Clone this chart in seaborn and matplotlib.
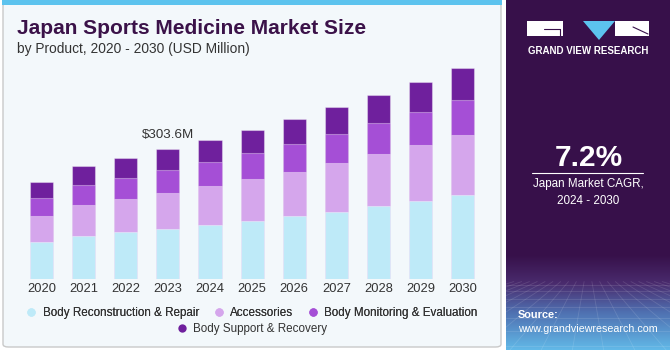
import numpy as np
import pandas as pd
import matplotlib
matplotlib.use("Agg")
import matplotlib.pyplot as plt
import seaborn as sns
from matplotlib.patches import FancyBboxPatch, Rectangle, Polygon
from matplotlib.lines import Line2D
from matplotlib.colors import LinearSegmentedColormap

# ---------------- data ----------------
years = ["2020", "2021", "2022", "2023", "2024", "2025", "2026", "2027", "2028", "2029", "2030"]
body_reconstruction = [87.2, 102.0, 109.8, 117.6, 126.9, 136.2, 147.1, 158.0, 171.3, 183.7, 197.0]
accessories = [61.5, 71.6, 77.9, 83.3, 90.3, 97.3, 104.3, 112.9, 119.9, 129.2, 139.4]
body_monitoring = [41.3, 46.7, 49.0, 54.5, 56.8, 60.7, 63.8, 67.7, 72.4, 77.1, 81.0]
body_support = [36.6, 43.6, 45.9, 48.3, 51.4, 54.5, 58.4, 62.3, 67.0, 70.1, 75.5]
segment_names = ["Body Reconstruction & Repair", "Accessories",
                 "Body Monitoring & Evaluation", "Body Support & Recovery"]
segment_colors = ["#BEEAF8", "#D5A6EC", "#A54FD6", "#6F209D"]
annot_year = "2023"
annot_text = "$303.6M"
cagr_text = "7.2%"
title = "Japan Sports Medicine Market Size"
subtitle = "by Product, 2020 - 2030 (USD Million)"

sns.set_theme(style="white")
plt.rcParams["font.family"] = ["Liberation Sans", "DejaVu Sans"]

W, H = 670, 350
fig = plt.figure(figsize=(W / 100, H / 100), dpi=100)
fig.patch.set_facecolor("white")


def fx(x):
    return x / W


def fy(y):
    return (H - y) / H


# ---------------- backgrounds ----------------
main_bg = FancyBboxPatch((fx(3), fy(347)), fx(498), (344) / H,
                         boxstyle="round,pad=0,rounding_size=0.008",
                         transform=fig.transFigure, facecolor="#F3F8FB",
                         edgecolor="#C9C9C9", linewidth=1.0, zorder=0)
fig.add_artist(main_bg)
fig.add_artist(Rectangle((fx(2), fy(5)), fx(500), 5 / H, transform=fig.transFigure,
                         facecolor="#5CC3EE", edgecolor="none", zorder=1))
fig.add_artist(Rectangle((fx(506), 0), fx(164), 1, transform=fig.transFigure,
                         facecolor="#37104A", edgecolor="none", zorder=0))

# gradient at bottom of the right panel
gax = fig.add_axes([fx(506), 0, fx(164), 95 / H], zorder=1)
cmap = LinearSegmentedColormap.from_list(
    "g", [(0, "#37104A"), (0.3, "#4A2C6E"), (0.6, "#4F6FB0"), (1.0, "#62B9E8")])
grad = np.linspace(0, 1, 200).reshape(-1, 1)
gax.imshow(grad, aspect="auto", cmap=cmap, extent=[0, 1, 0, 1], origin="upper")
for k in np.linspace(-1.5, 2.5, 22):
    gax.plot([0.5 + (k - 0.5) * 0.25, k], [0.72, 0], color="white", alpha=0.12, lw=0.6)
for yy in [0.68, 0.62, 0.54, 0.45, 0.34, 0.2, 0.04]:
    gax.plot([0, 1], [yy, yy], color="white", alpha=0.12, lw=0.6)
gax.set_xlim(0, 1)
gax.set_ylim(0, 1)
gax.axis("off")

# ---------------- chart ----------------
ax = fig.add_axes([fx(20.6), (H - 279.3) / H, fx(463), 217.3 / H], zorder=2)
ax.set_facecolor("none")

df = pd.DataFrame({"year": years, "s0": body_reconstruction, "s1": accessories,
                   "s2": body_monitoring, "s3": body_support})
layers = [df["s0"], df["s1"], df["s2"], df["s3"]]
cum = np.cumsum(np.vstack(layers), axis=0)
for i in range(3, -1, -1):
    sns.barplot(x=df["year"], y=cum[i], color=segment_colors[i], width=0.55,
                saturation=1, ax=ax, edgecolor=(1, 1, 1, 0.35), linewidth=0.8)

ax.set_xlim(-0.5, 10.5)
ax.set_ylim(0, 507)
for s in ax.spines.values():
    s.set_visible(False)
ax.set_yticks([])
ax.set_xlabel("")
ax.set_ylabel("")
ax.tick_params(axis="x", length=0, pad=3, labelsize=9.3, labelcolor="#333333")

ai = years.index(annot_year)
ax.annotate(annot_text, (ai, cum[3][ai]), xytext=(0, 10.3), textcoords="offset points",
            ha="center", va="center", fontsize=9.6, color="#333333")

# ---------------- titles ----------------
fig.text(fx(17), fy(34), title, fontsize=15, fontweight="bold", color="#3B1249",
         va="baseline", ha="left")
fig.text(fx(17), fy(53.5), subtitle, fontsize=9.9, color="#333333",
         va="baseline", ha="left")

# ---------------- legend ----------------
handles = [Line2D([], [], marker="o", linestyle="none", markersize=6,
                  markerfacecolor=c, markeredgecolor="none") for c in segment_colors]
leg1 = fig.legend(handles[:3], segment_names[:3], loc="center", ncol=3,
                  bbox_to_anchor=(fx(252), fy(312.7)), frameon=False, fontsize=8.4,
                  handlelength=0.8, handletextpad=0.55, columnspacing=1.3,
                  borderpad=0, labelcolor="#333333")
leg2 = fig.legend(handles[3:], segment_names[3:], loc="center", ncol=1,
                  bbox_to_anchor=(fx(252), fy(329)), frameon=False, fontsize=8.4,
                  handlelength=0.8, handletextpad=0.55, borderpad=0,
                  labelcolor="#333333")
fig.add_artist(leg1)

# ---------------- right panel ----------------
# logo
fig.add_artist(Rectangle((fx(527), fy(36)), fx(36), 15 / H, transform=fig.transFigure,
                         facecolor="white", edgecolor="none", zorder=3))
fig.add_artist(Rectangle((fx(615), fy(36)), fx(34), 15 / H, transform=fig.transFigure,
                         facecolor="white", edgecolor="none", zorder=3))
fig.add_artist(Polygon([(fx(583), fy(21)), (fx(615), fy(21)), (fx(599), fy(40))],
                       closed=True, transform=fig.transFigure, facecolor="#5CC3EE",
                       edgecolor="none", zorder=3))
fig.add_artist(Line2D([fx(544), fx(560)], [fy(29), fy(29)], transform=fig.transFigure,
                      color="#37104A", lw=0.8, zorder=4))
fig.add_artist(Line2D([fx(560), fx(560)], [fy(29), fy(36)], transform=fig.transFigure,
                      color="#37104A", lw=0.8, zorder=4))
fig.add_artist(Line2D([fx(633), fx(648)], [fy(27), fy(34)], transform=fig.transFigure,
                      color="#37104A", lw=0.8, zorder=4))
fig.text(fx(588), fy(50.5), "GRAND VIEW RESEARCH", fontsize=7, fontweight="bold",
         color="white", ha="center", va="center", zorder=4)

fig.text(fx(589), fy(165.7), cagr_text, fontsize=21.5, fontweight="bold", color="white",
         ha="center", va="baseline", zorder=4)
fig.add_artist(Line2D([fx(532), fx(643)], [fy(173.3), fy(173.3)], transform=fig.transFigure,
                      color="white", lw=0.8, zorder=4))
fig.text(fx(588), fy(184.5), "Japan Market CAGR,", fontsize=8.4, color="white",
         ha="center", va="center", zorder=4)
fig.text(fx(588), fy(200.5), "2024 - 2030", fontsize=8.4, color="white",
         ha="center", va="center", zorder=4)
fig.text(fx(518), fy(315), "Source:", fontsize=7.9, fontweight="bold", color="white",
         ha="left", va="center", zorder=4)
fig.text(fx(518), fy(329.5), "www.grandviewresearch.com", fontsize=7.7, color="white",
         ha="left", va="center", zorder=4)

fig.savefig("out.png", dpi=100, facecolor=fig.get_facecolor())
